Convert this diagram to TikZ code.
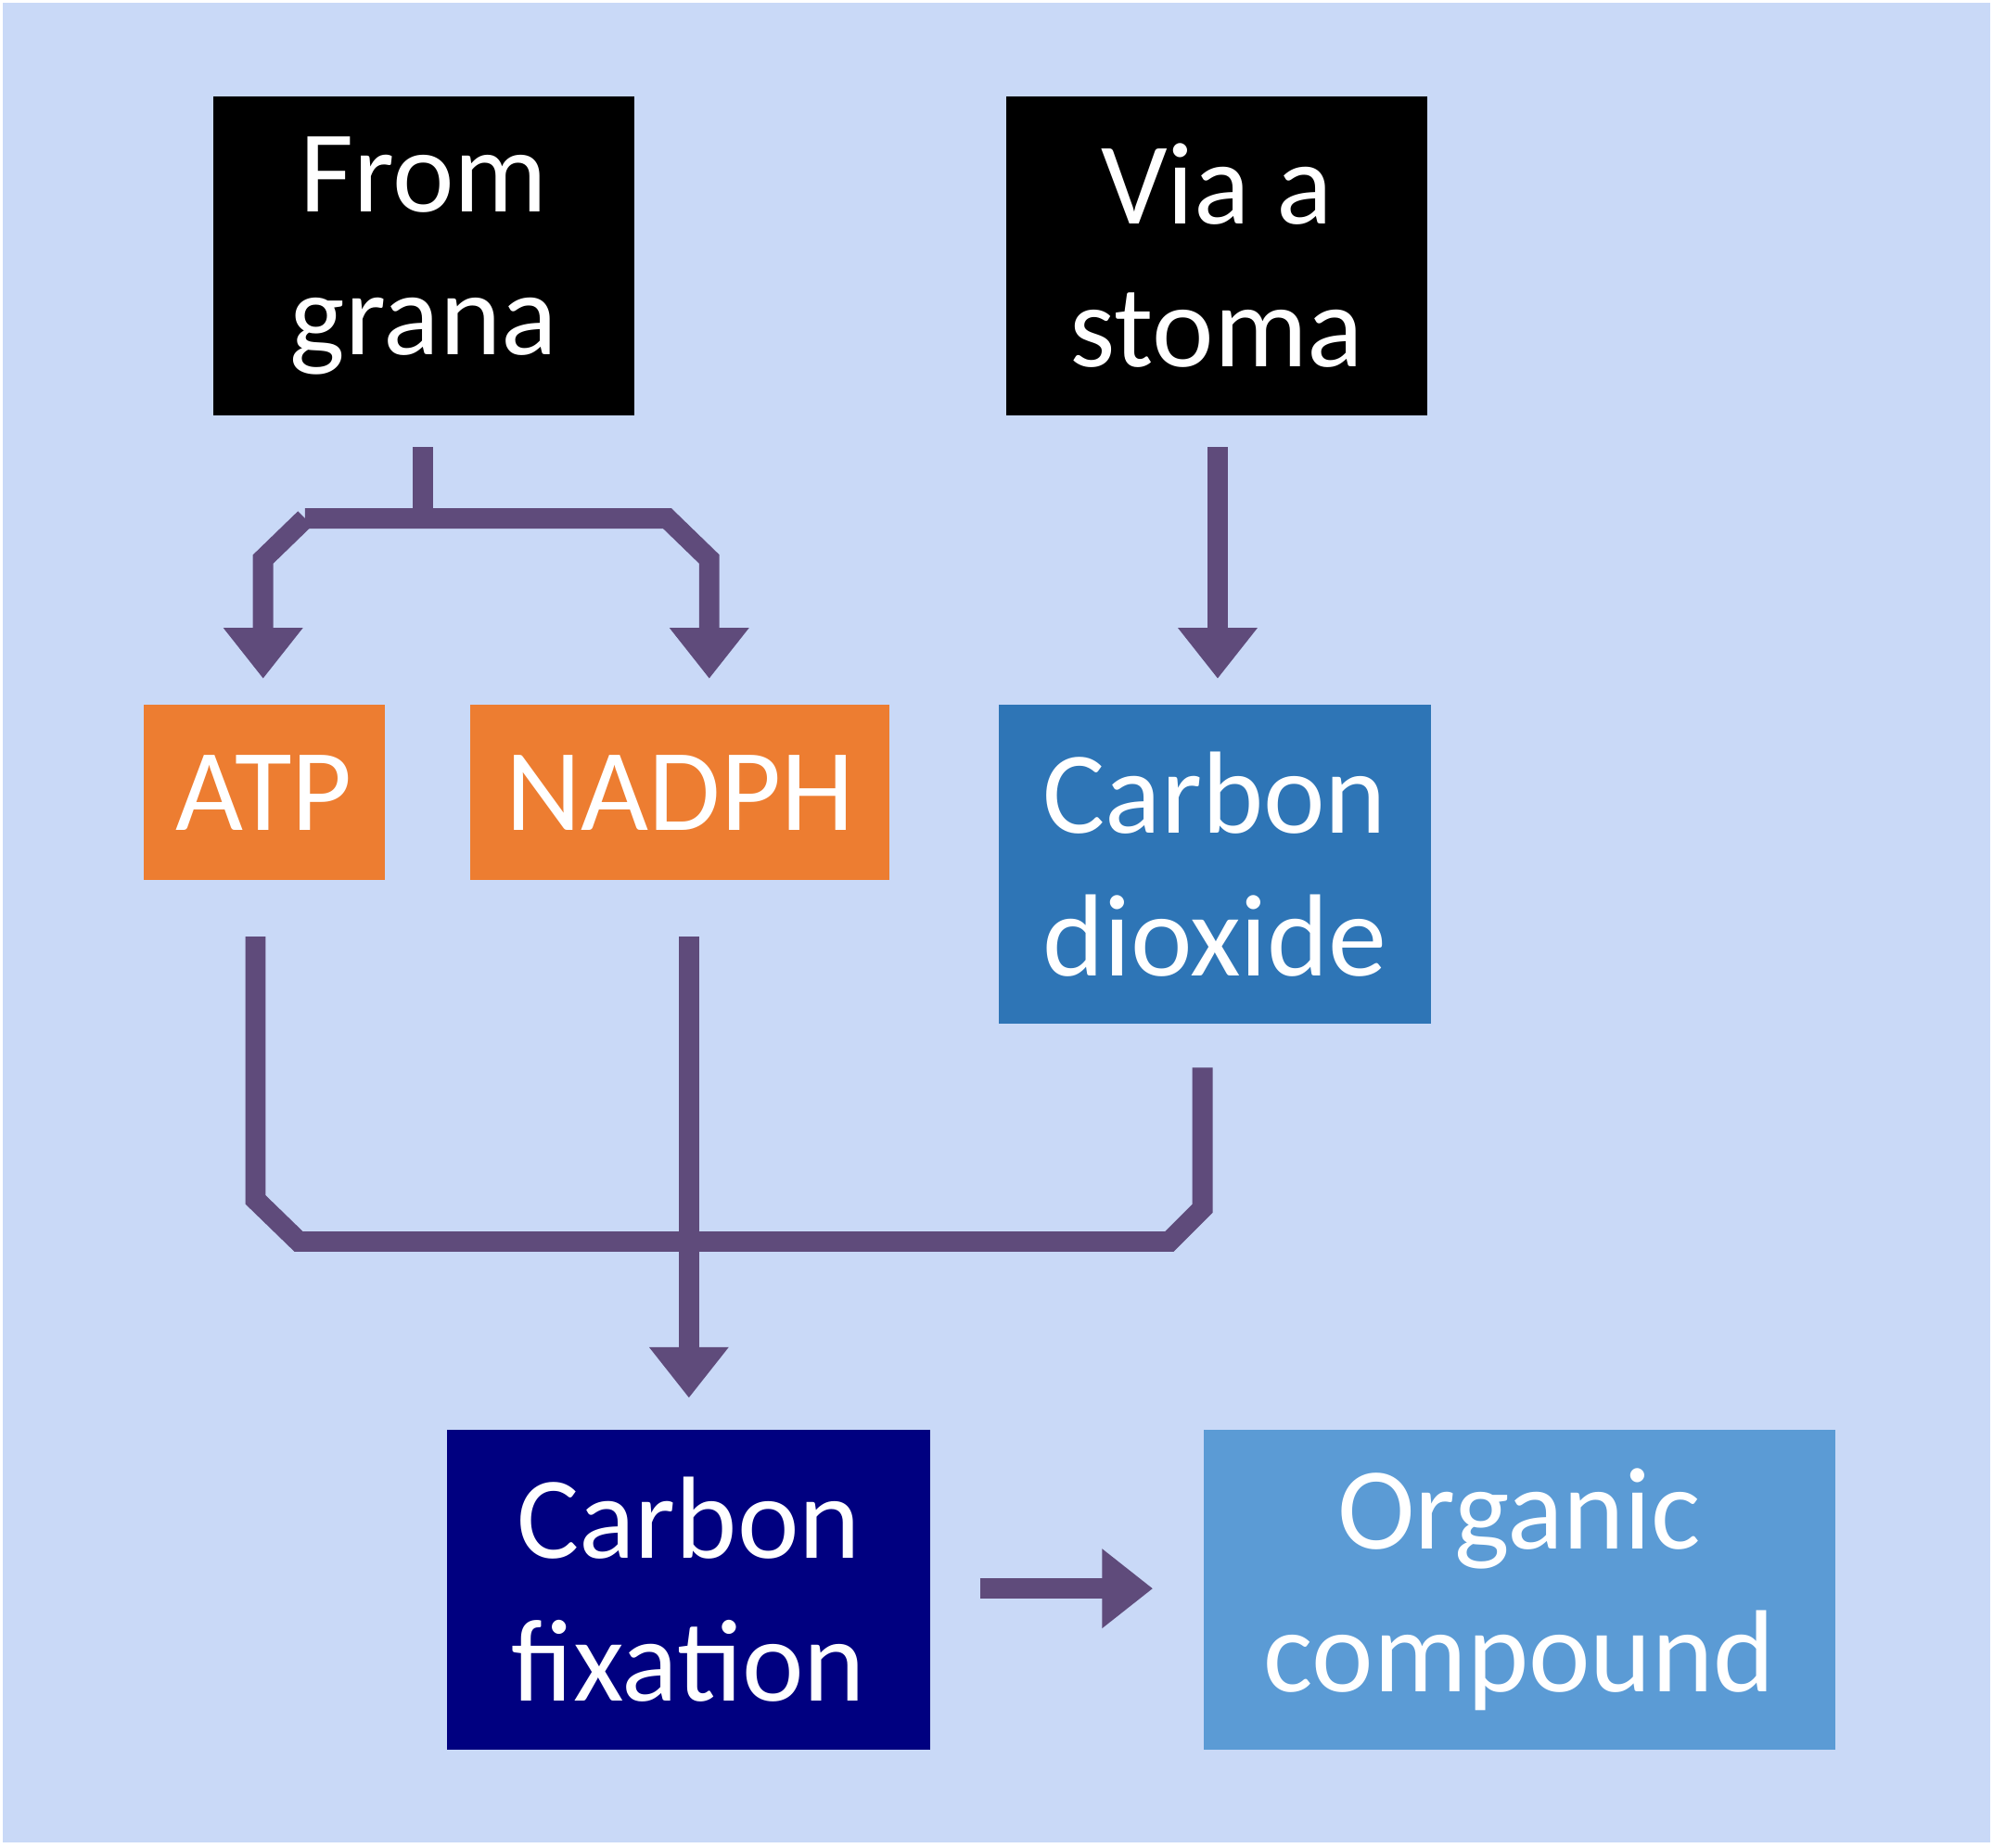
\documentclass[tikz,border=0pt]{standalone}
\usepackage{fontspec}
\setmainfont{Carlito}
\usetikzlibrary{arrows.meta}
\definecolor{bgblue}{RGB}{201,217,247}
\definecolor{arrowpurple}{RGB}{95,75,123}
\definecolor{atporange}{RGB}{237,125,49}
\definecolor{codblue}{RGB}{46,117,182}
\definecolor{fixnavy}{RGB}{0,0,128}
\definecolor{orgblue}{RGB}{91,155,213}
\tikzset{every picture/.style={line width=0.75pt}}
\tikzset{
  box/.style={anchor=north west,inner sep=0pt,text=white,align=center,
    font=\fontsize{46}{56}\selectfont},
  flow/.style={draw=arrowpurple,line width=8pt},
  tip/.style={flow,-{Triangle[width=30pt,length=20pt]}}
}
\begin{document}
\begin{tikzpicture}[x=0.5pt,y=0.5pt,yscale=-1,xscale=1]
    % background
    \fill[white] (0,0) rectangle (1568,1454);
    \fill[bgblue] (2,2) rectangle (1566,1450);

    % Boxes
    \node[box,fill=black,minimum width=165.5pt,minimum height=125.5pt] (grana) at (167,75) {From\\grana};
    \node[box,fill=black,minimum width=165.5pt,minimum height=125.5pt] (stoma) at (791,75) {Via a\\stoma};
    \node[box,fill=atporange,minimum width=95pt,minimum height=69pt] (atp) at (112,554) {ATP};
    \node[box,fill=atporange,minimum width=165pt,minimum height=69pt] (nadph) at (369,554) {NADPH};
    \node[box,fill=codblue,minimum width=170pt,minimum height=125.5pt] (co2) at (785,554) {Carbon\\dioxide};
    \node[box,fill=fixnavy,minimum width=190pt,minimum height=126pt] (fix) at (351,1124) {Carbon\\fixation};
    \node[box,fill=orgblue,minimum width=248.5pt,minimum height=126pt] (org) at (946,1124) {Organic\\compound};

    % Split arrows from grana
    \coordinate (gs) at (333,352);
    \coordinate (gj) at (333,408);
    \draw[flow] (gs) -- (gj);
    \draw[tip,line join=miter] (240,408) -- (207,440) -- (207,534);
    \draw[tip,line join=miter] (240,408) -- (525,408) -- (558,440) -- (558,534);

    % Arrow from stoma
    \draw[tip] (958,352) -- (958,534);

    % Merge arrows to fixation
    \draw[flow,line join=miter] (201,737) -- (201,944) -- (235,977) -- (920,977) -- (946,951) -- (946,840);
    \draw[tip] (542,737) -- (542,1100);

    % Fixation to organic compound
    \draw[tip] (771,1250) -- (907,1250);
\end{tikzpicture}
\end{document}
